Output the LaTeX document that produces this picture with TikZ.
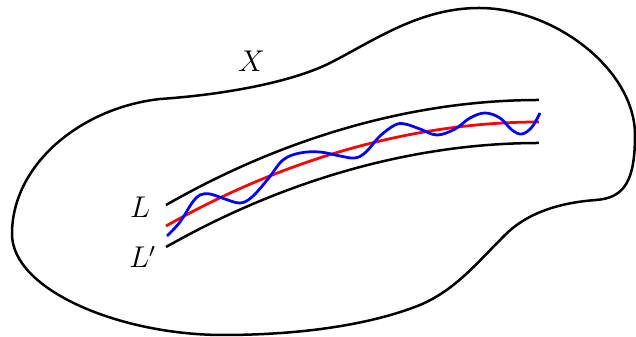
\documentclass[tikz,border=0pt]{standalone}
\usepackage{amsmath,amssymb}
\usepackage{xcolor}
\usepackage{tikz}
\usetikzlibrary{calc}

\begin{document}
\begin{tikzpicture}[x=0.4pt,y=-0.4pt,line width=1pt,
    lbl/.style={font=\large,inner sep=0pt,anchor=base west}]
	\useasboundingbox (0,0) rectangle (636,337);
	
	% the region X
	\draw (479,8) .. controls (420,8) and (375,40) .. (330,63)
		.. controls (290,83) and (220,95) .. (160,99)
		.. controls (80,108) and (12,165) .. (12,234)
		.. controls (12,290) and (120,335) .. (223,335)
		.. controls (300,335) and (370,325) .. (420,305)
		.. controls (455,290) and (475,265) .. (505,235)
		.. controls (525,215) and (555,203) .. (596,200)
		.. controls (625,198) and (635,180) .. (635,135)
		.. controls (635,70) and (555,8) .. (479,8) -- cycle;
	
	\coordinate (La) at (166,205);
	\coordinate (Lb) at (539,100);
	\coordinate (Ma) at (166,247);
	\coordinate (Mb) at (539,143);
	\coordinate (Ra) at (166,226);
	\coordinate (Rb) at (539,122);
	
	\draw (La) parabola[bend at end] (Lb);
	\draw (Ma) parabola[bend at end] (Mb);
	\draw[red,line width=1.1pt] (Ra) parabola[bend at end] (Rb);
	
	\draw[blue,line width=1.1pt] plot[smooth,tension=0.6] coordinates {
		(167,236) (180,222) (192,203) (200,195) (210,194) (225,199)
		(240,203) (252,197) (268,179) (283,160) (300,153) (320,152)
		(340,156) (355,158) (366,152) (380,136) (395,125) (405,124)
		(420,129) (437,135) (455,129) (470,118) (485,113) (500,118)
		(512,130) (522,134) (532,127) (540,113)};
	
	\node[lbl] (nL) at (129,218) {$L$};
	\node[lbl] (nLp) at (128,268) {$L'$};
	\node[lbl] (nX) at (237,72) {$X$};
\end{tikzpicture}
\end{document}
